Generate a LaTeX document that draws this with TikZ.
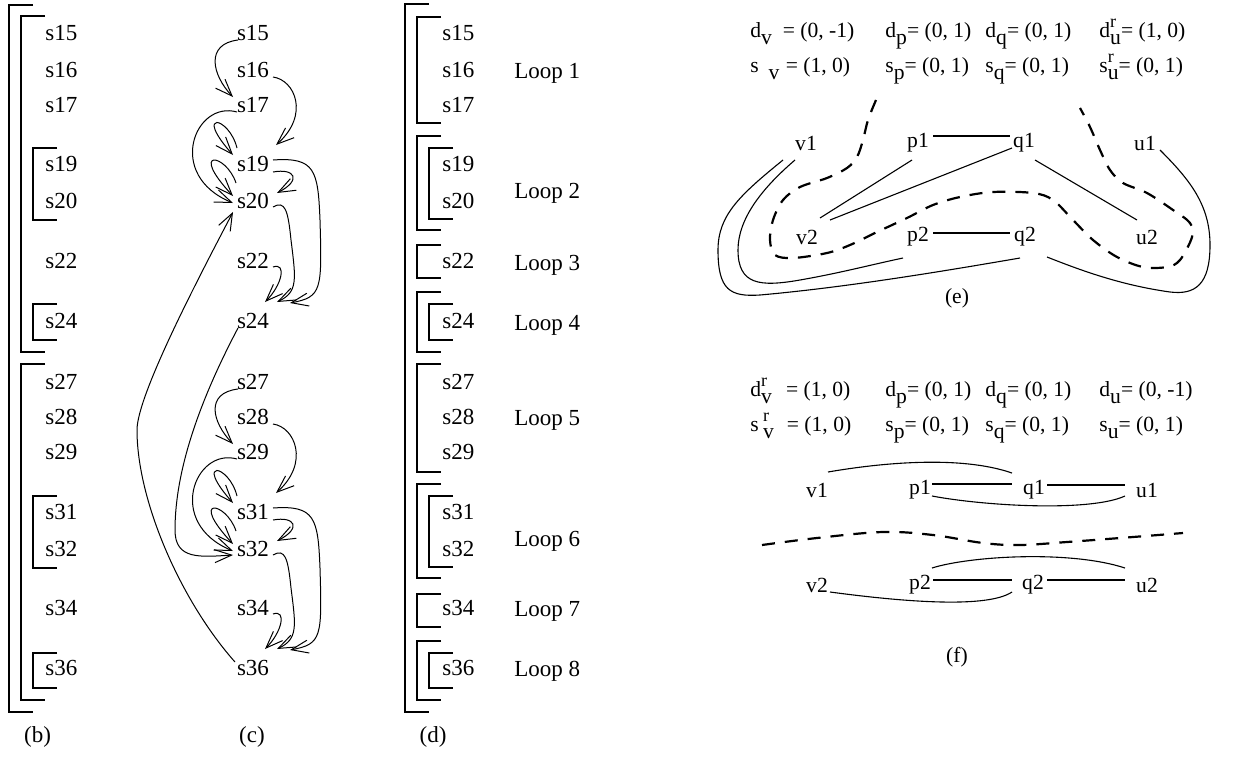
\documentclass[tikz,border=0pt]{standalone}
\usepackage{fontspec}
\setmainfont{Liberation Serif}
\usetikzlibrary{arrows.meta,calc}
\newcommand\lo[1]{\raisebox{-0.33em}{#1}}
\newcommand\losu[2]{\rlap{\raisebox{0.45em}{\fontsize{9}{10}\selectfont #1}}\raisebox{-0.33em}{#2}}
\newcommand\brk[3]{\draw[brk] ({#1+24},#2) -- (#1,#2) -- (#1,#3) -- ({#1+24},#3);}
\newcommand\cgrp[7]{%
\draw[arr] ($(#1)+(-15,7)$) .. controls ($(#1)+(-48,11)$) and ($(#3)+(-41,-30)$) .. ($(#3)+(-20,-8)$);
\draw[arr] ($(#2)+(20,7)$) .. controls ($(#2)+(42,10)$) and ($(#4)+(57,-49)$) .. ($(#4)+(23,-19)$);
\draw[arr] ($(#3)+(-16,7)$) .. controls ($(#3)+(-58,-5)$) and ($(#5)+(-88,-26)$) .. ($(#5)+(-20,2)$);
\draw[arr] ($(#4)+(-16,-16)$) .. controls ($(#4)+(-24,-48)$) and ($(#4)+(-60,-54)$) .. ($(#4)+(-20,-9)$);
\draw[arr] ($(#5)+(-17,-18)$) .. controls ($(#5)+(-27,-48)$) and ($(#5)+(-65,-53)$) .. ($(#5)+(-20,-5)$);
\draw[arr] ($(#4)+(20,8)$) .. controls ($(#4)+(42,4)$) and ($(#5)+(49,-21)$) .. ($(#5)+(24,-8)$);
\draw[arr] ($(#4)+(20,-4)$) .. controls ($(#4)+(62,-7)$) and ($(#4)+(65,6)$) .. ($(#4)+(67,56)$) .. controls ($(#7)+(69,-31)$) and ($(#7)+(69,-24)$) .. ($(#7)+(37,-18)$);
\draw[arr] ($(#5)+(20,6)$) .. controls ($(#5)+(32,-1)$) and ($(#5)+(35,9)$) .. ($(#5)+(38,39)$) .. controls ($(#7)+(43,-41)$) and ($(#7)+(45,-29)$) .. ($(#7)+(24,-19)$);
\draw[arr] ($(#6)+(20,6)$) .. controls ($(#6)+(34,1)$) and ($(#7)+(29,-36)$) .. ($(#7)+(12,-19)$);
}
\begin{document}
\begin{tikzpicture}[x=0.5pt,y=-0.5pt,
  font=\fontsize{11.5}{13.8}\selectfont,
  every node/.style={inner sep=0pt},
  brk/.style={line width=0.55pt},
  arr/.style={line width=0.5pt,-{Straight Barb[length=8.5pt,width=6.5pt]}},
  edge/.style={line width=0.55pt},
  sepline/.style={line width=1.1pt,dash pattern=on 6.5pt off 5pt},
  sm/.style={font=\fontsize{10.8}{13}\selectfont},
  eq/.style={sm,anchor=base west}]
\useasboundingbox (0,0) rectangle (1252,756);
% ---------- (b)
\foreach \n/\y in {15/33,16/70,17/105,19/164,20/201,22/261,24/321,27/382,28/417,29/452,31/512,32/549,34/608,36/668}
  \node[anchor=west] (b\n) at (45,\y) {s\n};
\brk{9}{5}{712}
\brk{21}{16}{352}
\brk{21}{364}{700}
\brk{33}{148}{220}
\brk{33}{304}{340}
\brk{33}{496}{568}
\brk{33}{653}{688}
\node (lb) at (37.5,737) {(b)};
% ---------- (c)
\foreach \n/\y in {15/33,16/70,17/105,19/164,20/201,22/261,24/321,27/382,28/417,29/452,31/512,32/549,34/608,36/668}
  \node (c\n) at (253,\y) {s\n};
\cgrp{c15}{c16}{c17}{c19}{c20}{c22}{c24}
\cgrp{c27}{c28}{c29}{c31}{c32}{c34}{c36}
\draw[arr] ($(c36)+(-18,-6)$) .. controls ($(c36)+(-73,-68)$) and (137,500) .. (137,430)
   .. controls (137,395) and ($(c20)+(-53,74)$) .. ($(c20)+(-20,11)$);
\draw[arr] ($(c24)+(-15,7)$) .. controls (200,400) and (175,470) .. (175,530)
   .. controls (175,560) and (200,557) .. ($(c32)+(-20,6)$);
\node (lc) at (252,737) {(c)};
% ---------- (d)
\foreach \n/\y in {15/33,16/70,17/105,19/164,20/201,22/261,24/321,27/382,28/417,29/452,31/512,32/549,34/608,36/668}
  \node[anchor=west] (d\n) at (442,\y) {s\n};
\brk{405}{4}{712}
\brk{417}{17}{123}
\brk{417}{136}{230}
\brk{429}{148}{219}
\brk{417}{245}{278}
\brk{417}{292}{352}
\brk{429}{304}{340}
\brk{417}{364}{472}
\brk{417}{484}{578}
\brk{429}{496}{567}
\brk{417}{594}{627}
\brk{417}{641}{700}
\brk{429}{653}{688}
\foreach \k/\y in {1/78,2/198,3/270,4/330,5/425,6/546,7/616,8/676}
  \node[anchor=base west] (loop\k) at (514,\y) {Loop \k};
\node (ld) at (433,737) {(d)};
% ---------- (e)
\node[eq] (e11) at (750,37) {d\lo{v}\hspace{0.5em}= (0, -1)};
\node[eq] (e12) at (885,37) {d\lo{p}= (0, 1)};
\node[eq] (e13) at (985,37) {d\lo{q}= (0, 1)};
\node[eq] (e14) at (1099,37) {d\losu{r}{u}= (1, 0)};
\node[eq] (e21) at (750,72) {s\hspace{0.45em}\lo{v}\hspace{0.3em}= (1, 0)};
\node[eq] (e22) at (885,72) {s\lo{p}= (0, 1)};
\node[eq] (e23) at (985,72) {s\lo{q}= (0, 1)};
\node[eq] (e24) at (1099,72) {s\losu{r}{u}= (0, 1)};
\node[sm] (v1) at (806,143) {v1};
\node[sm] (p1) at (918,143) {p1};
\node[sm] (q1) at (1024,143) {q1};
\node[sm] (u1) at (1145,143) {u1};
\node[sm] (v2) at (807,237) {v2};
\node[sm] (p2) at (918,237) {p2};
\node[sm] (q2) at (1025,237) {q2};
\node[sm] (u2) at (1147,237) {u2};
\draw[edge] ($(p1)+(15,-7)$) -- ($(q1)+(-14,-7)$);
\draw[edge] ($(p1)+(-6,17)$) -- ($(v2)+(13,-19)$);
\draw[edge] ($(q1)+(-12,5)$) -- ($(v2)+(23,-17)$);
\draw[edge] ($(q1)+(11,17)$) -- ($(u2)+(-10,-17)$);
\draw[edge] ($(p2)+(15,-4)$) -- ($(q2)+(-15,-4)$);
\draw[edge] ($(v1)+(-11,17)$) .. controls (760,190) and (738,220) .. (738,250)
   .. controls (738,285) and (760,287) .. (800,280)
   .. controls (840,273) and (870,265) .. ($(p2)+(-15,21)$);
\draw[edge] ($(v1)+(-23,17)$) .. controls (740,195) and (718,215) .. (718,250)
   .. controls (718,290) and (730,297) .. (760,295)
   .. controls (850,287) and (950,270) .. ($(q2)+(-5,21)$);
\draw[edge] ($(u1)+(15,7)$) .. controls (1190,180) and (1210,205) .. (1210,245)
   .. controls (1210,285) and (1195,295) .. (1170,292)
   .. controls (1120,285) and (1080,270) .. ($(q2)+(22,20)$);
\draw[sepline] plot[smooth,tension=0.55] coordinates {(876,100) (868,120) (863,140) (857,157) (847,168) (827,178) (800,187) (783,200) (773,220) (770,240) (775,255) (793,258) (827,253) (850,245) (877,232) (907,218) (933,205) (960,197) (993,192) (1033,193) (1053,200) (1073,220) (1093,240) (1117,257) (1143,267) (1167,267) (1180,260) (1192,237) (1190,223) (1173,210) (1147,193) (1123,183) (1110,170) (1100,150) (1090,127) (1080,108)};
\node[sm] (le) at (957,298) {(e)};
% ---------- (f)
\node[eq] (f11) at (750,396) {d\losu{r}{v}\hspace{0.65em}= (1, 0)};
\node[eq] (f12) at (885,396) {d\lo{p}= (0, 1)};
\node[eq] (f13) at (985,396) {d\lo{q}= (0, 1)};
\node[eq] (f14) at (1099,396) {d\lo{u}= (0, -1)};
\node[eq] (f21) at (750,431) {s\hspace{0.2em}\losu{r}{v}\hspace{0.6em}= (1, 0)};
\node[eq] (f22) at (885,431) {s\lo{p}= (0, 1)};
\node[eq] (f23) at (985,431) {s\lo{q}= (0, 1)};
\node[eq] (f24) at (1099,431) {s\lo{u}= (0, 1)};
\node[sm] (fv1) at (817,490) {v1};
\node[sm] (fp1) at (920,490) {p1};
\node[sm] (fq1) at (1034,490) {q1};
\node[sm] (fu1) at (1147,490) {u1};
\node[sm] (fv2) at (817,585) {v2};
\node[sm] (fp2) at (920,585) {p2};
\node[sm] (fq2) at (1033,585) {q2};
\node[sm] (fu2) at (1147,585) {u2};
\draw[edge] ($(fv1)+(11,-18)$) .. controls (880,463) and (960,455) .. ($(fq1)+(-22,-17)$);
\draw[edge] ($(fp1)+(12,-6)$) -- ($(fq1)+(-22,-6)$);
\draw[edge] ($(fq1)+(13,-5)$) -- ($(fu1)+(-22,-5)$);
\draw[edge] ($(fp1)+(12,6)$) .. controls (985,506) and (1090,512) .. ($(fu1)+(-22,6)$);
\draw[sepline] plot[smooth,tension=0.6] coordinates {(762,545) (817,538) (883,532) (933,535) (983,543) (1020,545) (1067,542) (1133,537) (1183,533)};
\draw[edge] ($(fp2)+(12,-17)$) .. controls (970,556) and (1070,550) .. ($(fu2)+(-22,-17)$);
\draw[edge] ($(fp2)+(13,-5)$) -- ($(fq2)+(-21,-5)$);
\draw[edge] ($(fq2)+(14,-5)$) -- ($(fu2)+(-22,-5)$);
\draw[edge] ($(fv2)+(13,7)$) .. controls (890,600) and (985,610) .. ($(fq2)+(-21,7)$);
\node[sm] (lf) at (957,657) {(f)};
\end{tikzpicture}
\end{document}
